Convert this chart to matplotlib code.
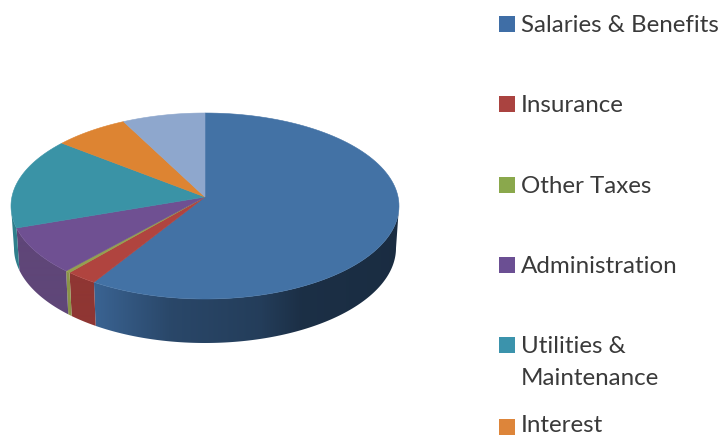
import numpy as np
import matplotlib
matplotlib.use("Agg")
import matplotlib.pyplot as plt
from matplotlib.colors import to_rgb
from matplotlib.patches import Polygon, Rectangle

categories = ["Salaries & Benefits", "Insurance", "Other Taxes", "Administration",
              "Utilities &\nMaintenance", "Interest", "Other"]
shares = [59.7, 2.6, 0.4, 8.5, 15.6, 6.3, 6.9]
top_colors = ["#4372a5", "#b0443f", "#94a050", "#6f5092", "#3a93a6", "#dd8432", "#8ea7cd"]
side_colors = ["#3a6392", "#8f3633", "#8a9448", "#5f4678", "#2f7f8c", "#b96e28", "#7a90b0"]
legend_colors = ["#3f6ea6", "#aa4340", "#8aa84c", "#6b4f93", "#3b93ac", "#dd853a"]
legend_y = [24, 104, 185, 265, 361, 424]
legend_box_y = [24, 104, 185, 265, 345, 427]

# pie geometry in pixels, apex sits above the ellipse centre because of the perspective
apex_x, apex_y = 205, 197
top_cy, top_rx, top_ry = 206, 194, 93
low_cy, low_rx, low_ry = 248, 191, 95

shade_x = [95, 170, 260, 300, 395]
shade_k = [1.0, 0.72, 0.62, 0.48, 0.45]


def rim(theta, cy, rx, ry):
    # theta in radians, clockwise from the top of the pie
    return apex_x + rx * np.sin(theta), cy - ry * np.cos(theta)


fig = plt.figure(figsize=(7.25, 4.37), dpi=100)
ax = fig.add_axes([0, 0, 1, 1])
ax.axis("off")

edges = np.radians(np.cumsum([0] + shares) * 3.6)

# side wall first, only the front half shows
for i in range(len(shares)):
    lo, hi = max(edges[i], np.pi / 2), min(edges[i + 1], 3 * np.pi / 2)
    if hi <= lo:
        continue
    th = np.linspace(lo, hi, 200)
    xt, yt = rim(th, top_cy, top_rx, top_ry)
    xb, yb = rim(th, low_cy, low_rx, low_ry)
    pts = np.column_stack([np.r_[xt, xb[::-1]], np.r_[yt, yb[::-1]]])
    wall = Polygon(pts, facecolor="none", edgecolor="none")
    ax.add_patch(wall)
    xs = np.arange(0, 420)
    grad = np.outer(np.interp(xs, shade_x, shade_k), to_rgb(side_colors[i]))[np.newaxis, :, :]
    im = ax.imshow(grad, extent=(0, 420, 437, 0), aspect="auto", interpolation="bilinear")
    im.set_clip_path(wall)

# top face
for i in range(len(shares)):
    th = np.linspace(edges[i], edges[i + 1], 120)
    x, y = rim(th, top_cy, top_rx, top_ry)
    pts = np.column_stack([np.r_[apex_x, x], np.r_[apex_y, y]])
    ax.add_patch(Polygon(pts, facecolor=top_colors[i], edgecolor=top_colors[i], lw=0.4))

# legend, last entry falls off the picture in the original
for name, col, y, by in zip(categories, legend_colors, legend_y, legend_box_y):
    ax.add_patch(Rectangle((499, by - 8), 16, 16, facecolor=col, edgecolor="none"))
    ax.text(521, y + 1.5, name, family="Lato", fontsize=17.4, color="#3a3a3a",
            va="center", linespacing=1.65)

ax.set_xlim(0, 725)
ax.set_ylim(437, 0)

fig.savefig("out.png", dpi=100)
